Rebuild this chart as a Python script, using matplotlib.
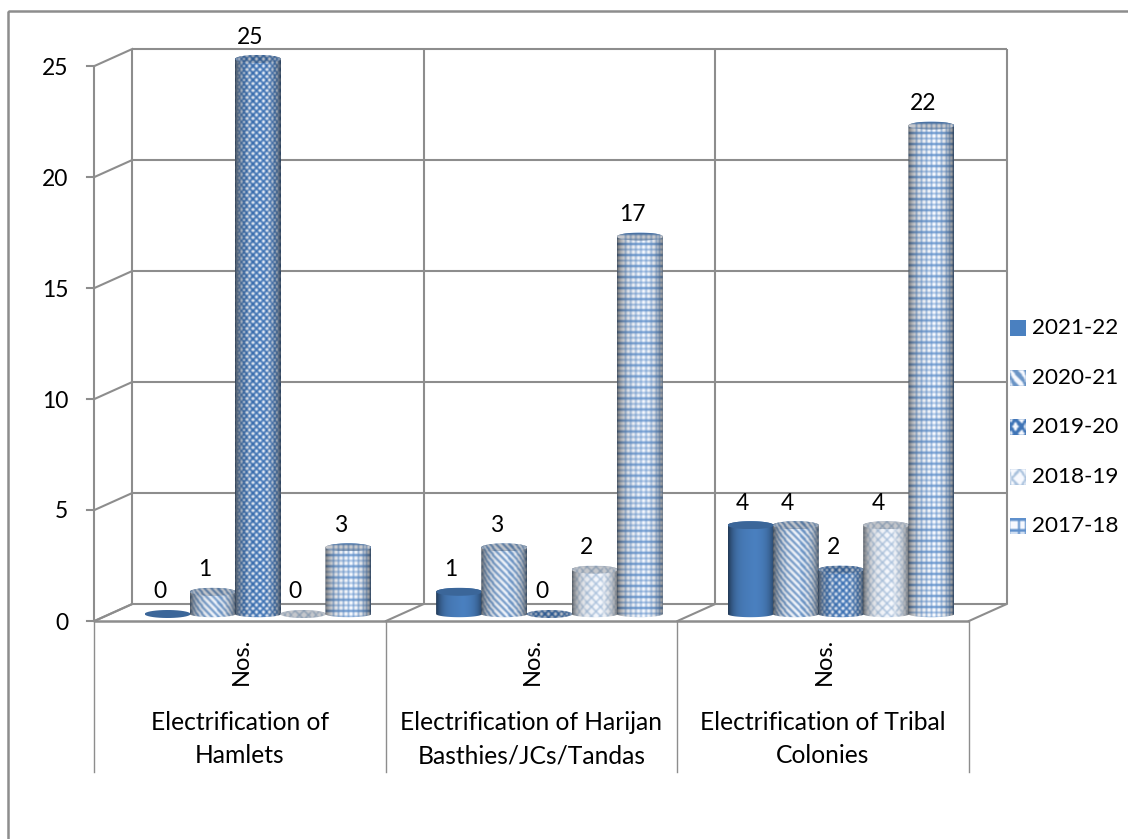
import numpy as np
import matplotlib
matplotlib.use("Agg")
import matplotlib.pyplot as plt
from matplotlib.path import Path
from matplotlib.patches import PathPatch, Rectangle
from matplotlib.transforms import Affine2D

plt.rcParams['font.family'] = ['Lato', 'DejaVu Sans']

categories = ["Electrification of\nHamlets",
              "Electrification of Harijan\nBasthies/JCs/Tandas",
              "Electrification of Tribal\nColonies"]
unit_label = "Nos."
years = ["2021-22", "2020-21", "2019-20", "2018-19", "2017-18"]
values_2021_22 = [0, 1, 4]
values_2020_21 = [1, 3, 4]
values_2019_20 = [25, 0, 2]
values_2018_19 = [0, 2, 4]
values_2017_18 = [3, 17, 22]
series = [values_2021_22, values_2020_21, values_2019_20, values_2018_19, values_2017_18]
y_ticks = [0, 5, 10, 15, 20, 25]

W, H = 1128, 839
SX, SY = 291.5, 22.2       # pixels per category, pixels per value unit
X0, Y0 = 258.0, 614.0      # pixel position of first category at value 0
GRAY = '#8d8d8d'
LW = 1.5
BAR_W = 46 / SX
BAR_STEP = 45.2 / SX
CAP = 4.0 / SY             # half height of the cylinder ellipses

fig = plt.figure(figsize=(W / 100, H / 100), dpi=100, facecolor='white')
ax = fig.add_axes([0, 0, 1, 1])
ax.set_xlim(-X0 / SX, (W - X0) / SX)
ax.set_ylim((Y0 - H) / SY, Y0 / SY)
ax.axis('off')


def shifted(dx, dy):
    """Data transform moved by dx pixels right and dy pixels down."""
    return ax.transData + Affine2D().translate(dx, -dy)


FRONT = shifted(-17.8, 7)
BACK = shifted(20, -10)


def line(xs, ys, transform, z=1, lw=LW):
    ax.plot(xs, ys, color=GRAY, lw=lw, transform=transform, zorder=z,
            solid_capstyle='butt', clip_on=False)


# Outer chart border
ax.add_patch(Rectangle((7.5, 11), W, H, transform=Affine2D().scale(1, -1).translate(0, H),
                       fill=False, ec=GRAY, lw=LW + 0.3, zorder=0, clip_on=False))

# Back wall, left wall and floor
x_edges = [-0.5, 0.5, 1.5, 2.5]
for v in y_ticks:
    line([x_edges[0], x_edges[-1]], [v, v], BACK)
    p0 = FRONT.transform((x_edges[0], v))
    p1 = BACK.transform((x_edges[0], v))
    ax.plot([p0[0], p1[0]], [p0[1], p1[1]], color=GRAY, lw=LW, transform=None, zorder=1)
    t = FRONT.transform((x_edges[0], v))
    ax.plot([t[0] - 7, t[0]], [t[1], t[1]], color=GRAY, lw=LW, transform=None, zorder=1)
    ax.text(t[0] - 26, t[1] - 2, str(v), ha='right', va='center', fontsize=16.5,
            transform=None, color='black')
for xe in x_edges:
    line([xe, xe], [0, y_ticks[-1]], BACK)
    p0 = FRONT.transform((xe, 0))
    p1 = BACK.transform((xe, 0))
    ax.plot([p0[0], p1[0]], [p0[1], p1[1]], color=GRAY, lw=LW, transform=None, zorder=1)
    # Category bracket below the floor
    ax.plot([p0[0], p0[0]], [p0[1], p0[1] - 151], color=GRAY, lw=1.0, transform=None, zorder=1)
line([x_edges[0], x_edges[0]], [0, y_ticks[-1]], FRONT)
line([x_edges[0], x_edges[-1]], [0, 0], FRONT, z=1.5, lw=LW + 0.3)


def pattern(kind, nx, ny, r=1.0):
    """White fraction of a cylinder surface texture, wrapped around the curve."""
    t = np.linspace(-0.995, 0.995, nx)
    u = np.arcsin(t) * nx / 2
    v = np.arange(ny)
    U, V = np.meshgrid(u, v)
    if kind == 'solid':
        m = np.zeros_like(U)
    elif kind == 'stripes':
        m = ((U - V) % (7 * r) < 3.6 * r).astype(float)
    elif kind == 'dots':
        m = ((U + V) % (7 * r) < 4.2 * r) & ((U - V) % (7 * r) < 4.2 * r)
        m = m.astype(float)
    elif kind == 'lattice':
        m = 1.0 - (((U + V) % (9 * r) < 1.8 * r) | ((U - V) % (9 * r) < 1.8 * r))
    else:
        m = 1.0 - ((U % (5.5 * r) < 1.2 * r) | (V % (5.5 * r) < 1.2 * r))
    k = np.array([0.25, 0.5, 0.25])
    m = np.apply_along_axis(lambda a: np.convolve(a, k, mode='same'), 0, m)
    m = np.apply_along_axis(lambda a: np.convolve(a, k, mode='same'), 1, m)
    return m, t


STYLES = [('solid', '#4a80c0'), ('stripes', '#6a94c6'), ('dots', '#3f74b6'),
          ('lattice', '#a8c0dc'), ('grid', '#5f90cc')]


def texture(idx, nx, ny, shade=1.0, curved=True, r=1.0):
    kind, col = STYLES[idx]
    m, t = pattern(kind, nx, ny, r)
    base = np.array(matplotlib.colors.to_rgb(col))
    rgb = m[..., None] * np.ones(3) * np.array([0.97, 0.98, 1.0]) + (1 - m[..., None]) * base
    if curved:
        s = 1 - 0.42 * np.abs(t) ** 4 - 0.1 * np.abs(t - 0.15)
        rgb = rgb * s[None, :, None]
    return np.clip(rgb * shade, 0, 1)


def ellipse_pts(xc, yc, half_w, half_h, a0, a1, n=40):
    a = np.linspace(a0, a1, n)
    return np.column_stack([xc + half_w * np.cos(a), yc + half_h * np.sin(a)])


def cylinder(xc, val, idx, z):
    half = BAR_W / 2
    nx = int(BAR_W * SX)
    if val > 0:
        bottom = ellipse_pts(xc, 0, half, CAP * 0.8, np.pi, 2 * np.pi)
        top = ellipse_pts(xc, val, half, CAP, 0, np.pi)
        verts = np.vstack([bottom, top, bottom[:1]])
        clip = PathPatch(Path(verts), transform=ax.transData, fc='none', ec='none')
        ax.add_patch(clip)
        y0, y1 = -CAP, val + CAP
        ny = max(int((y1 - y0) * SY), 2)
        im = ax.imshow(texture(idx, nx, ny), extent=[xc - half, xc + half, y0, y1],
                       aspect='auto', interpolation='bilinear', zorder=z)
        im.set_clip_path(clip)
    cap_v = ellipse_pts(xc, val, half, CAP, 0, 2 * np.pi)
    clip2 = PathPatch(Path(cap_v), transform=ax.transData, fc='none', ec='none')
    ax.add_patch(clip2)
    ny = max(int(2 * CAP * SY), 2)
    im2 = ax.imshow(texture(idx, nx, ny, shade=0.8, curved=False),
                    extent=[xc - half, xc + half, val - CAP, val + CAP],
                    aspect='auto', interpolation='bilinear', zorder=z + 0.1)
    im2.set_clip_path(clip2)


# Cylinders and their value labels
for j, vals in enumerate(series):
    for i, v in enumerate(vals):
        xc = i + (j - 2) * BAR_STEP
        cylinder(xc, v, j, 3 + j * 0.2)
        ax.annotate(str(v), xy=(xc, v), xytext=(-8, 22), textcoords='offset pixels',
                    ha='center', va='center', fontsize=16.5, color='black', zorder=8)

# Axis text under the floor
for i, cat in enumerate(categories):
    ax.annotate(unit_label, xy=(i, 0), xytext=(-17, -47), textcoords='offset pixels',
                rotation=90, ha='center', va='center', fontsize=17, color='black')
    ax.annotate(cat, xy=(i, 0), xytext=(-18, -125), textcoords='offset pixels',
                ha='center', va='center', fontsize=17.7, linespacing=1.55,
                multialignment='center', color='black')

# Legend on the right
legend_y = [328, 378, 427, 477, 526]
for j, (yr, ly) in enumerate(zip(years, legend_y)):
    sw = fig.add_axes([1010 / W, 1 - (ly + 8) / H, 16 / W, 16 / H])
    sw.imshow(texture(j, 16, 16, curved=False, r=2.0 if j else 1.0), aspect='auto',
              interpolation='bilinear')
    sw.axis('off')
    fig.text(1032 / W, 1 - ly / H, yr, ha='left', va='center', fontsize=16.2, color='black')

ax.set_xlim(-X0 / SX, (W - X0) / SX)
ax.set_ylim((Y0 - H) / SY, Y0 / SY)
fig.savefig('out.png', dpi=100, facecolor='white')
